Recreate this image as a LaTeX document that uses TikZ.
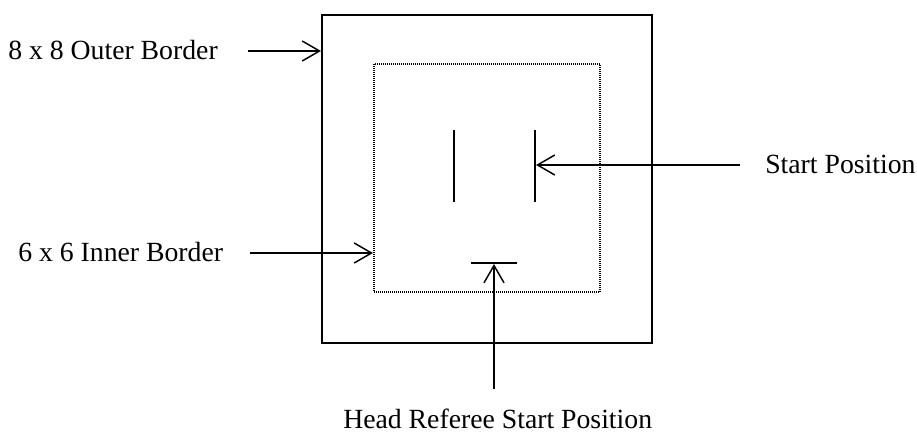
\documentclass[tikz,border=0pt]{standalone}
\usepackage{fontspec}
\setmainfont{Liberation Serif}
\usetikzlibrary{arrows.meta}
\tikzset{
  every picture/.style={x=0.75pt, y=-0.75pt},
  sbox/.style={draw, line width=1.5pt},
  sinner/.style={draw, line width=0.8pt, dash pattern=on 0.75pt off 0.75pt},
  smark/.style={draw, line width=1.5pt},
  sarrow/.style={draw, line width=1.1pt,
                 -{Straight Barb[length=13pt, width=15pt, line width=1.1pt]}},
  slabel/.style={anchor=base west, inner sep=0pt,
                 font=\fontsize{20.8}{24}\selectfont},
}

\begin{document}
\begin{tikzpicture}
  \useasboundingbox (0,0) rectangle (917,434);
  % borders
  \draw[sbox] (322,15) rectangle (652,343);
  \draw[sinner] (374,64) rectangle (600,292);
  % start marks
  \draw[smark] (454,130) -- (454,202);
  \draw[smark] (535,130) -- (535,202);
  \draw[smark] (471,263) -- (517,263);
  % labels
  \node[slabel] (lOuter) at (8,60) {8 x 8 Outer Border};
  \node[slabel] (lInner) at (18,262) {6 x 6 Inner Border};
  \node[slabel] (lStart) at (765,174) {Start Position};
  \node[slabel] (lHead) at (343,428) {Head Referee Start Position};
  % arrows
  \coordinate (aOuterS) at (248,51);
  \coordinate (aOuterE) at (321,51);
  \coordinate (aInnerS) at (250,253);
  \coordinate (aInnerE) at (373,253);
  \coordinate (aStartS) at (740,165);
  \coordinate (aStartE) at (536,165);
  \coordinate (aHeadS) at (494,389);
  \coordinate (aHeadE) at (494,264);
  \draw[sarrow] (aOuterS) -- (aOuterE);
  \draw[sarrow] (aInnerS) -- (aInnerE);
  \draw[sarrow] (aStartS) -- (aStartE);
  \draw[sarrow] (aHeadS) -- (aHeadE);
\end{tikzpicture}
\end{document}
